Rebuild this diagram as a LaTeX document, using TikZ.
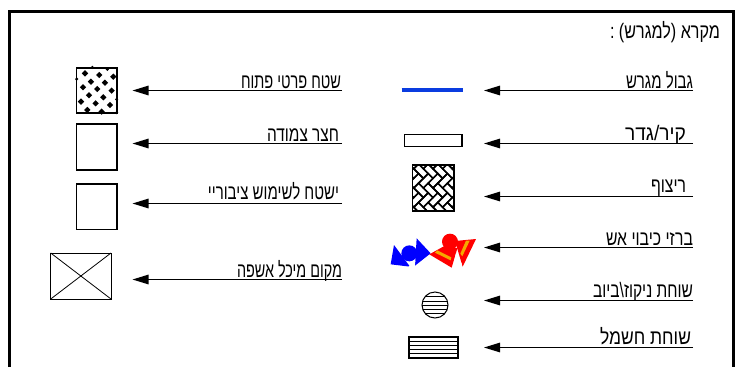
\documentclass[tikz,border=0pt]{standalone}
\usepackage{fontspec}
\usepackage{graphicx}
\usetikzlibrary{arrows.meta}
\TeXXeTstate=1
\newfontfamily\hebfont[Script=Hebrew]{Liberation Sans}
\definecolor{lineblue}{HTML}{0A3CE0}
\definecolor{hydblue}{HTML}{0000FF}
\definecolor{hydorange}{HTML}{F5A800}
\tikzset{
  x=1pt,y=-1pt,
  frameline/.style={line width=3pt,black},
  symbolbox/.style={line width=1.2pt,black},
  thinbox/.style={line width=0.8pt,black},
  leader/.style={line width=1.2pt,black,-{Triangle[length=16pt,width=9.5pt]}},
  lbl/.style={anchor=base east,inner sep=0pt,outer sep=0pt},
}
\newcommand{\heb}[2]{\resizebox{#1pt}{\height}{\hebfont\fontsize{21}{23}\selectfont #2}}
\begin{document}
\begin{tikzpicture}
\useasboundingbox (0,0) rectangle (735,367);
\fill[white] (0,0) rectangle (735,367);
\draw[frameline] (9.5,367) -- (9.5,11) -- (733.5,11) -- (733.5,367);

% title
\node[lbl] (title) at (720,38) {\heb{110}{\beginR מקרא (למגרש) :\endR}};

% right column labels
\node[lbl] (t1) at (693,88) {\heb{67}{\beginR גבול מגרש\endR}};
\node[lbl] (t2) at (686,140) {\heb{61}{\beginR קיר/גדר\endR}};
\node[lbl] (t3) at (686,192) {\heb{35}{\beginR ריצוף\endR}};
\node[lbl] (t4) at (693,245) {\heb{87}{\beginR ברזי כיבוי אש\endR}};
\node[lbl] (t5) at (693,297) {\heb{100}{\beginR שוחת ניקוז\textbackslash ביוב\endR}};
\node[lbl] (t6) at (691,344) {\heb{91}{\beginR שוחת חשמל\endR}};
% left column labels
\node[lbl] (t7) at (341,88) {\heb{100}{\beginR שטח פרטי פתוח\endR}};
\node[lbl] (t8) at (339,141) {\heb{72}{\beginR חצר צמודה\endR}};
\node[lbl] (t9) at (339,199) {\heb{131}{\beginR ישטח לשימוש ציבוריי\endR}};
\node[lbl] (t10) at (342,277) {\heb{105}{\beginR מקום מיכל אשפה\endR}};

% leaders
\foreach \n/\y in {r1/90.5,r2/143.5,r3/196.5,r4/247.5,r5/300.5,r6/347.5}{
  \coordinate (\n s) at (693,\y);
  \coordinate (\n t) at (484,\y);
  \draw[leader] (\n s) -- (\n t);
}
\foreach \n/\y in {l1/90.5,l2/143.5,l3/203.5,l4/279.5}{
  \coordinate (\n s) at (342,\y);
  \coordinate (\n t) at (132.5,\y);
  \draw[leader] (\n s) -- (\n t);
}

% boundary line
\draw[lineblue,line width=4.5pt] (401.5,90) -- (463,90);
% wall
\draw[symbolbox] (404.5,134.8) rectangle (462,146.5);

% paving (herringbone)
\begin{scope}
  \clip (412.7,165) rectangle (454,211);
  \begin{scope}[shift={(433,188)},rotate=45,x=6.8pt,y=6.8pt]
    \foreach \i in {-6,...,6}{
      \foreach \j in {-6,...,6}{
        \pgfmathsetmacro{\a}{\i+2*\j}
        \pgfmathsetmacro{\b}{-\i+2*\j}
        \draw[line width=1.5pt] (\a,\b) rectangle ++(2,1);
        \draw[line width=1.5pt] (\a+2,\b) rectangle ++(1,2);
      }
    }
  \end{scope}
\end{scope}
\draw[symbolbox] (412.7,165) rectangle (454,211);

% dotted area
\draw[symbolbox] (76.7,68) rectangle (117,113);
\begin{scope}[shift={(65,60)},x=0.3333pt,y=-0.3333pt]
  \foreach \p/\q in {60/40,103/45,145/50,78/65,120/68,54/82,97/87,140/92,72/106,115/112,48/125,92/130,135/135,67/150,110/155}{
    \fill (\p-9.5,\q) -- (\p,\q-9.5) -- (\p+9.5,\q) -- (\p,\q+9.5) -- cycle;
  }
  \foreach \p/\q in {127/28,35/57,82/22,155/118,155/158}{
    \fill (\p-5,\q) -- (\p,\q-5) -- (\p+5,\q) -- (\p,\q+5) -- cycle;
  }
\end{scope}

% plain boxes
\draw[symbolbox] (76.7,124) rectangle (117,170);
\draw[symbolbox] (76.7,184) rectangle (117,229.5);

% waste bin
\draw[thinbox] (50.7,253) rectangle (111,299);
\draw[thinbox] (50.7,253) -- (111,299);
\draw[thinbox] (50.7,299) -- (111,253);

% hydrants
\begin{scope}[shift={(380,225)},x=0.3333pt,y=-0.3333pt]
  \fill[hydblue] (42,60) -- (32,118) -- (90,125) -- cycle;
  \fill[hydblue] (88,85) circle[radius=24];
  \fill[hydblue] (110,40) -- (105,122) -- (152,85) -- cycle;
  \fill[white] (85,125) -- (106,108) -- (104,128) -- cycle;
  \fill[red] (148,88) -- (215,128) -- (232,70) -- (195,62) -- cycle;
  \fill[red] (210,50) circle[radius=24];
  \fill[red] (225,48) -- (288,42) -- (248,125) -- cycle;
  \fill[white] (218,128) -- (228,85) -- (246,118) -- (232,132) -- cycle;
  \fill[hydorange] (165,83) -- (172,76) -- (214,97) -- (212,106) -- cycle;
  \fill[hydorange] (241,86) -- (258,47) -- (269,47) -- (247,94) -- cycle;
\end{scope}

% manhole
\begin{scope}
  \clip (435,305) circle[radius=13];
  \foreach \y in {296.5,301,305,309,313.5}{
    \draw[line width=0.7pt] (420,\y) -- (450,\y);
  }
\end{scope}
\draw[line width=1pt] (435,305) circle[radius=13];

% electric
\draw[symbolbox] (409,337) rectangle (458,358);
\foreach \y in {341,345,349.5,353.5}{
  \draw[line width=0.7pt] (409,\y) -- (458,\y);
}
\end{tikzpicture}
\end{document}
